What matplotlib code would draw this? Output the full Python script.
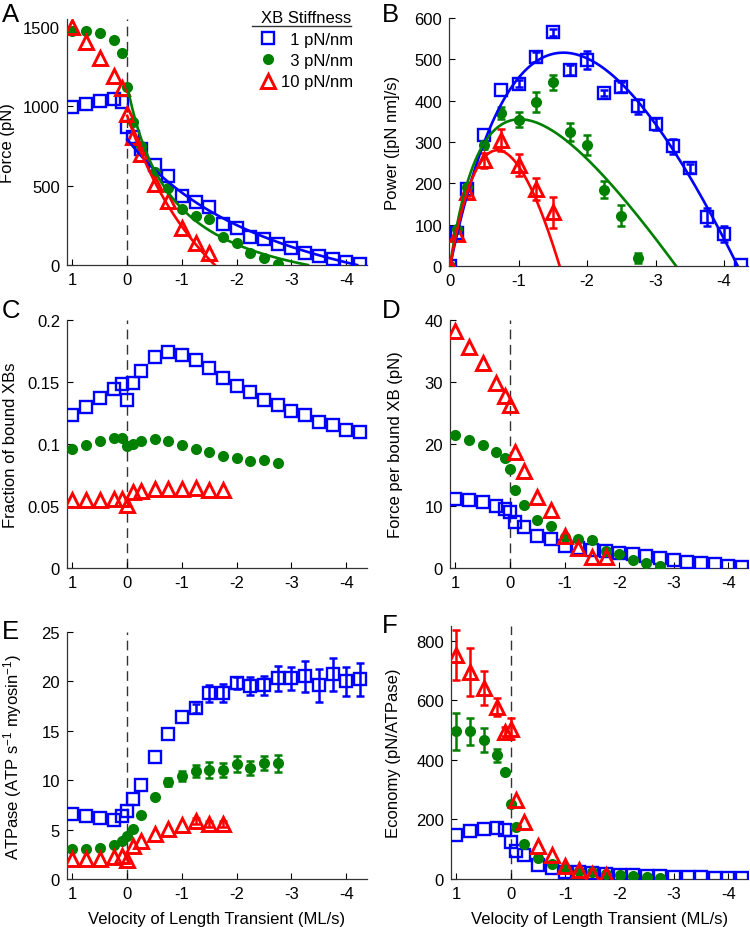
import numpy as np
import matplotlib
matplotlib.use('Agg')
import matplotlib.pyplot as plt
from matplotlib.lines import Line2D
from matplotlib.ticker import FuncFormatter

plt.rcParams['font.family'] = ['Liberation Sans', 'DejaVu Sans']
plt.rcParams['mathtext.fontset'] = 'custom'
plt.rcParams['mathtext.rm'] = 'Liberation Sans'
plt.rcParams['mathtext.it'] = 'Liberation Sans:italic'
plt.rcParams['axes.unicode_minus'] = False

# velocity of length transient (ML/s); green stops at -2.75, red at -1.75
vel = [1, 0.75, 0.5, 0.25, 0.1, 0, -0.1, -0.25, -0.5, -0.75, -1, -1.25, -1.5, -1.75,
       -2, -2.25, -2.5, -2.75, -3, -3.25, -3.5, -3.75, -4, -4.25]
vel_short = [0, -0.1, -0.25, -0.5, -0.75, -1, -1.25, -1.5, -1.75, -2, -2.25, -2.5,
             -2.75, -3, -3.25, -3.5, -3.75, -4, -4.25]

# A: force (pN)
force_1 = [994, 1015, 1036, 1046, 1025, 867, 804, 730, 632, 562, 436, 398, 368, 257,
           236, 179, 162, 131, 110, 78, 57, 36, 21, 5]
force_3 = [1474, 1474, 1461, 1415, 1337, 1120, 900, 751, 583, 484, 352, 309, 288, 179,
           141, 78, 46, 7]
force_10 = [1500, 1404, 1303, 1189, 1114, 952, 804, 699, 509, 404, 236, 141, 78]

# Hill fits: (a, b, vmax) with F = a (vmax - v) / (v + b)
hill_1 = (579, 3.07, 4.2)
hill_3 = (281, 0.821, 3.3)
hill_10 = (1278, 2.175, 1.6)

# B: power ([pN nm]/s)
power_1 = [0, 81, 187, 317, 425, 441, 506, 565, 474, 498, 419, 433, 386, 344, 290, 236,
           118, 77, 2]
power_1_err = [0, 0, 0, 0, 0, 8, 12, 8, 12, 22, 8, 12, 18, 15, 18, 10, 22, 20, 0]
power_3 = [0, 89, 191, 293, 370, 354, 396, 445, 325, 293, 185, 122, 20]
power_3_err = [0, 0, 0, 10, 14, 18, 24, 18, 22, 25, 20, 25, 12]
power_10 = [0, 77, 179, 256, 305, 244, 187, 130]
power_10_err = [0, 0, 10, 18, 27, 27, 27, 38]

# C: fraction of bound XBs
frac_1 = [0.1235, 0.1297, 0.137, 0.1446, 0.148, 0.1357, 0.149, 0.1586, 0.170, 0.1738,
          0.1716, 0.1676, 0.161, 0.1532, 0.147, 0.142, 0.1357, 0.1316, 0.127, 0.1235,
          0.1176, 0.1154, 0.1114, 0.1095]
frac_3 = [0.096, 0.099, 0.1027, 0.105, 0.105, 0.0986, 0.100, 0.1027, 0.104, 0.1027,
          0.0995, 0.096, 0.0932, 0.0905, 0.089, 0.0865, 0.087, 0.0843]
frac_10 = [0.0549, 0.0549, 0.0552, 0.0557, 0.056, 0.0505, 0.0616, 0.062, 0.0635, 0.0635,
           0.064, 0.0643, 0.063, 0.063]

# D: force per bound XB (pN)
fpx_1 = [11.05, 10.9, 10.6, 10.0, 9.5, 9.0, 7.5, 6.6, 5.1, 4.6, 3.5, 3.2, 2.9, 2.8, 2.5,
         2.2, 2.0, 1.6, 1.35, 1.0, 0.8, 0.6, 0.4, 0.2]
fpx_3 = [21.4, 20.6, 19.8, 18.7, 17.7, 15.9, 12.6, 10.2, 7.8, 6.7, 5.0, 4.7, 4.5, 2.8,
         2.3, 1.3, 0.8, 0.4]
fpx_10 = [38.2, 35.6, 33.0, 29.8, 27.8, 26.3, 18.7, 15.7, 11.4, 9.3, 5.2, 3.3, 1.7, 1.7]

# E: ATPase (ATP s^-1 myosin^-1)
atp_1 = [6.6, 6.35, 6.2, 6.0, 6.4, 6.9, 8.1, 9.55, 12.3, 14.7, 16.4, 17.3, 18.8, 18.8,
         19.8, 19.5, 19.6, 20.3, 20.3, 20.5, 19.6, 20.7, 20.0, 20.2]
atp_1_err = [0, 0, 0, 0, 0, 0, 0, 0, 0, 0, 0, 0.45, 0.85, 0.9,
             0.6, 0.9, 0.95, 1.25, 1.2, 1.55, 1.7, 1.65, 1.45, 1.7]
atp_3 = [3.0, 3.0, 3.15, 3.4, 3.8, 4.4, 5.1, 6.5, 8.35, 9.8, 10.4, 10.9, 11.05, 11.05,
         11.6, 11.25, 11.7, 11.7]
atp_3_err = [0, 0, 0, 0, 0, 0, 0, 0, 0, 0.4, 0.5, 0.6, 0.8, 0.7,
             0.8, 0.7, 0.7, 0.85]
atp_10 = [2.0, 2.0, 2.0, 2.2, 2.35, 1.95, 3.3, 3.8, 4.6, 5.1, 5.5, 5.9, 5.6, 5.6]
atp_10_err = [0, 0, 0, 0, 0, 0, 0, 0, 0, 0, 0, 0.3, 0.3, 0.3]

# F: economy (pN/ATPase)
econ_1 = [149, 160, 168, 172, 166, 124, 95, 79, 47, 36, 25, 22, 19, 17, 15, 12, 11, 9,
          8, 7, 6, 5, 4.5, 4]
econ_3 = [496, 496, 468, 415, 359, 252, 174, 116, 70, 50, 36, 28, 22, 17, 13, 9, 7, 4]
econ_3_err = [63, 45, 40, 23, 0, 0, 0, 0, 0, 0, 0, 0, 0, 0, 0, 0, 0, 0]
econ_10 = [754, 696, 642, 578, 494, 505, 264, 191, 112, 82, 45, 30, 17, 15]
econ_10_err = [84, 80, 56, 30, 15, 35, 0, 0, 0, 0, 0, 0, 0, 0]

BLUE, GREEN, RED = '#0000ff', '#008000', '#ff0000'
style = {
    'blue': dict(marker='s', ms=8, mfc='none', mec=BLUE, mew=1.7, ls='none'),
    'green': dict(marker='o', ms=8, mfc=GREEN, mec=GREEN, mew=0, ls='none'),
    'red': dict(marker='^', ms=9.5, mfc='none', mec=RED, mew=2.1, ls='none'),
}
colors = {'blue': BLUE, 'green': GREEN, 'red': RED}
FS = 12

W, H = 750, 928
fig = plt.figure(figsize=(W / 100, H / 100), dpi=100)


def make_axes(left, bottom, right, top):
    ax = fig.add_axes([left / W, 1 - bottom / H, (right - left) / W, (bottom - top) / H])
    for s in ['top', 'right']:
        ax.spines[s].set_visible(False)
    for s in ['left', 'bottom']:
        ax.spines[s].set_color('#333333')
        ax.spines[s].set_linewidth(0.9)
    ax.tick_params(direction='in', length=4, width=0.8, labelsize=FS, pad=5,
                   colors='#000000')
    return ax


def points(ax, x, y, key, err=None, z=3):
    x = np.array(x[:len(y)], dtype=float)
    y = np.array(y, dtype=float)
    if err is not None:
        e = np.array(err, dtype=float)
        m = e > 0
        ax.errorbar(x[m], y[m], yerr=e[m], fmt='none', ecolor=colors[key],
                    elinewidth=1.8, capsize=3, capthick=1.8, zorder=z)
    ax.plot(x, y, zorder=z, **style[key])


def hill_force(p, v):
    a, b, vmax = p
    return a * (vmax - v) / (v + b)


def zero_line(ax):
    ax.axvline(0, color='#333333', lw=1.0, ls=(0, (7, 4)), zorder=1)


def label_y(ax, text, px):
    ax.set_ylabel(text, fontsize=FS)
    bb = ax.get_position()
    ax.yaxis.set_label_coords((px / W - bb.x0) / bb.width, 0.5)


xticks = [1, 0, -1, -2, -3, -4]
gfmt = FuncFormatter(lambda v, p: '%g' % v)

# A
axA = make_axes(67, 266, 367, 20)
zero_line(axA)
points(axA, vel, force_1, 'blue')
points(axA, vel, force_3, 'green')
points(axA, vel, force_10, 'red')
for p, key in [(hill_1, 'blue'), (hill_3, 'green'), (hill_10, 'red')]:
    v = np.linspace(0, p[2], 200)
    axA.plot(-v, hill_force(p, v), color=colors[key], lw=1.9, zorder=4)
axA.set_xlim(1.1, -4.38)
axA.set_ylim(0, 1550)
axA.set_xticks(xticks)
axA.set_yticks([0, 500, 1000, 1500])
label_y(axA, 'Force (pN)', 15)

handles = [Line2D([], [], **style[k]) for k in ['blue', 'green', 'red']]
leg = axA.legend(handles, ['  1 pN/nm', '  3 pN/nm', '10 pN/nm'], title='XB Stiffness',
                 loc='upper right', bbox_to_anchor=(0.955, 1.035), frameon=False,
                 borderaxespad=0, borderpad=0, handletextpad=0.2, handlelength=1.2,
                 labelspacing=0.38, fontsize=FS, title_fontsize=FS)

# B
axB = make_axes(449, 267, 748, 19)
points(axB, vel_short, power_1, 'blue', power_1_err)
points(axB, vel_short, power_3, 'green', power_3_err)
points(axB, vel_short, power_10, 'red', power_10_err)
for p, key in [(hill_1, 'blue'), (hill_3, 'green'), (hill_10, 'red')]:
    v = np.linspace(0, p[2], 200)
    axB.plot(-v, v * hill_force(p, v), color=colors[key], lw=1.9, zorder=4)
axB.set_xlim(0.015, -4.35)
axB.set_ylim(0, 600)
axB.set_xticks([0, -1, -2, -3, -4])
axB.set_yticks(range(0, 601, 100))
label_y(axB, 'Power ([pN nm]/s)', 400)

# C
axC = make_axes(67, 569, 367, 321)
zero_line(axC)
points(axC, vel, frac_1, 'blue')
points(axC, vel, frac_3, 'green')
points(axC, vel, frac_10, 'red')
axC.set_xlim(1.1, -4.38)
axC.set_ylim(0, 0.2)
axC.set_xticks(xticks)
axC.set_yticks([0, 0.05, 0.1, 0.15, 0.2])
axC.yaxis.set_major_formatter(gfmt)
label_y(axC, 'Fraction of bound XBs', 18)

# D
axD = make_axes(450, 569, 748, 321)
zero_line(axD)
points(axD, vel, fpx_1, 'blue')
points(axD, vel, fpx_3, 'green')
points(axD, vel, fpx_10, 'red')
axD.set_xlim(1.1, -4.36)
axD.set_ylim(0, 40)
axD.set_xticks(xticks)
axD.set_yticks(range(0, 41, 10))
label_y(axD, 'Force per bound XB (pN)', 403)

# E
axE = make_axes(67, 880, 367, 633)
zero_line(axE)
points(axE, vel, atp_1, 'blue', atp_1_err)
points(axE, vel, atp_3, 'green', atp_3_err)
points(axE, vel, atp_10, 'red', atp_10_err)
axE.set_xlim(1.1, -4.38)
axE.set_ylim(0, 25)
axE.set_xticks(xticks)
axE.set_yticks(range(0, 26, 5))
label_y(axE, 'ATPase (ATP s$^{-1}$ myosin$^{-1}$)', 24)
axE.set_xlabel('Velocity of Length Transient (ML/s)', fontsize=FS, labelpad=7)

# F
axF = make_axes(451, 880, 748, 627)
zero_line(axF)
points(axF, vel, econ_1, 'blue')
points(axF, vel, econ_3, 'green', econ_3_err)
points(axF, vel, econ_10, 'red', econ_10_err)
axF.set_xlim(1.1, -4.36)
axF.set_ylim(0, 850)
axF.set_xticks(xticks)
axF.set_yticks(range(0, 801, 200))
label_y(axF, 'Economy (pN/ATPase)', 401)
axF.set_xlabel('Velocity of Length Transient (ML/s)', fontsize=FS, labelpad=7)

# panel letters
for letter, px, py in [('A', 2, 3), ('B', 382, 3), ('C', 2, 299), ('D', 382, 299),
                       ('E', 2, 620), ('F', 382, 614)]:
    fig.text(px / W, 1 - py / H, letter, fontsize=18.5, va='top', ha='left')

# underline beneath legend title
fig.canvas.draw()
r = fig.canvas.get_renderer()
tb = leg.get_title().get_window_extent(r)
lb = leg.get_window_extent(r)
y_line = (tb.y0 - 1) / H
fig.add_artist(Line2D([(lb.x0 - 6) / W, tb.x1 / W], [y_line, y_line], color='#333333',
                      lw=1.0))

fig.savefig('out.png', dpi=100)
